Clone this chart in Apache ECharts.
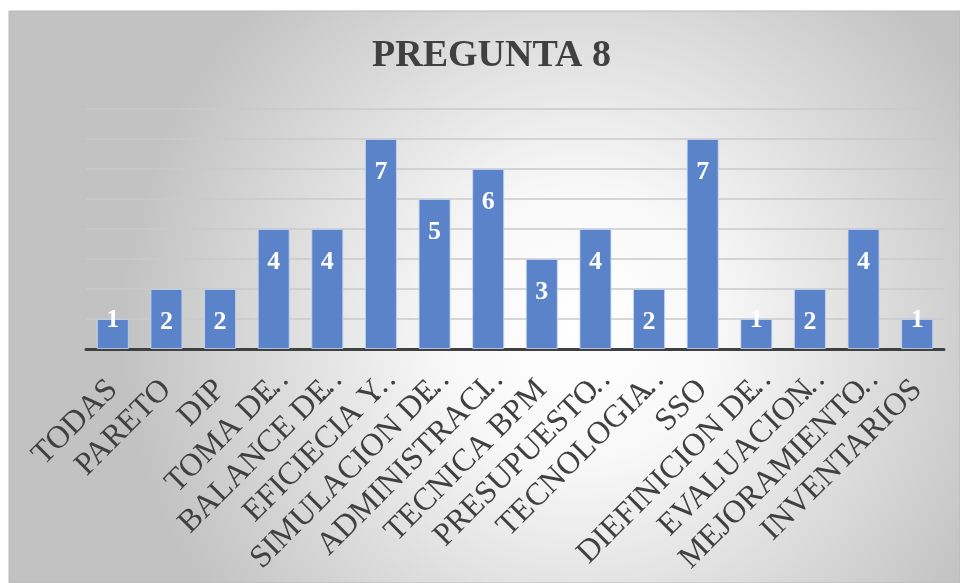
<!DOCTYPE html>
<html>
<head>
<meta charset="utf-8">
<style>
  html, body { margin: 0; padding: 0; background: #ffffff; }
  #chart { width: 960px; height: 583px; }
</style>
<script src="https://cdn.jsdelivr.net/npm/echarts@6/dist/echarts.min.js"></script>
</head>
<body>
<div id="chart"></div>
<script>
// Responses to question 8, one bar per technique
const categories = [
  'TODAS', 'PARETO', 'DIP', 'TOMA DE…', 'BALANCE DE…', 'EFICIECIA Y…',
  'SIMULACION DE…', 'ADMINISTRACI…', 'TECNICA BPM', 'PRESUPUESTO…',
  'TECNOLOGIA…', 'SSO', 'DIEFINICION DE…', 'EVALUACION…', 'MEJORAMIENTO…', 'INVENTARIOS'
];
const counts = [1, 2, 2, 4, 4, 7, 5, 6, 3, 4, 2, 7, 1, 2, 4, 1];
const titleText = 'PREGUNTA 8';

const serif = '"Liberation Serif", "DejaVu Serif", serif';
const textDark = '#404040';
const ELLIPSIS = '…';

const chart = echarts.init(document.getElementById('chart'), null, { renderer: 'canvas' });

// Short bars get their label centred on the bar top instead of inside it
const barData = counts.map(v => (v <= 1
  ? { value: v, label: { position: 'top', distance: -14 } }
  : { value: v }));

// Truncated names: the trailing ellipsis hangs past the anchor so the words line up
function axisName(name) {
  if (name.endsWith(ELLIPSIS)) {
    return name.slice(0, -1) + '{e|' + ELLIPSIS + '}';
  }
  return name;
}

chart.setOption({
  backgroundColor: '#ffffff',
  animation: false,
  graphic: [{
    type: 'rect',
    z: -10,
    silent: true,
    shape: { x: 9, y: 11, width: 951, height: 572 },
    style: {
      fill: {
        type: 'radial', x: 0.6, y: 0.55, r: 0.8,
        colorStops: [
          { offset: 0, color: '#ffffff' },
          { offset: 0.3, color: '#f8f8f8' },
          { offset: 1, color: '#c2c2c2' }
        ]
      },
      stroke: '#b8b8b8',
      lineWidth: 1
    }
  }],
  title: {
    text: titleText,
    left: 367,
    top: 32,
    textStyle: {
      fontFamily: serif,
      fontWeight: 'bold',
      fontSize: 38,
      color: textDark
    }
  },
  grid: {
    left: 86, right: 16, top: 109, bottom: 234,
    containLabel: false,
    outerBoundsMode: 'none'
  },
  xAxis: {
    type: 'category',
    data: categories,
    axisLine: { lineStyle: { color: '#404040', width: 3 } },
    axisTick: { show: false },
    axisLabel: {
      interval: 0,
      rotate: 45,
      margin: 36,
      fontFamily: serif,
      fontSize: 32,
      color: textDark,
      formatter: axisName,
      rich: {
        e: {
          width: 1,
          align: 'left',
          fontFamily: serif,
          fontSize: 32,
          color: textDark
        }
      }
    }
  },
  yAxis: {
    type: 'value',
    min: 0,
    max: 8,
    interval: 1,
    axisLabel: { show: false },
    axisLine: { show: false },
    axisTick: { show: false },
    splitLine: { lineStyle: { color: '#cacaca', width: 1.5 } }
  },
  series: [{
    type: 'bar',
    data: barData,
    barWidth: 32,
    itemStyle: {
      color: '#5b83ca',
      borderColor: 'rgba(200,215,240,0.8)',
      borderWidth: 1
    },
    label: {
      show: true,
      position: 'insideTop',
      distance: 20,
      fontFamily: serif,
      fontWeight: 'bold',
      fontSize: 26,
      color: '#ffffff'
    }
  }]
});
</script>
</body>
</html>
